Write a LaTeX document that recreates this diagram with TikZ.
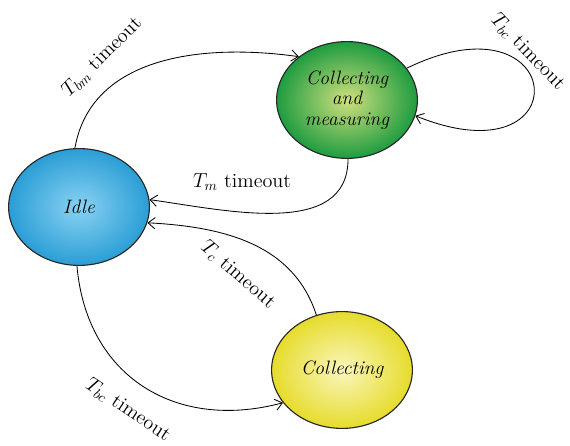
\documentclass[tikz,border=0pt]{standalone}
\usepackage{amsmath,amssymb}
\usetikzlibrary{shapes.geometric,arrows.meta}

\begin{document}
\begin{tikzpicture}[
font=\fontsize{14.3}{16}\selectfont,
>={Straight Barb[length=5pt,width=8pt]},
state/.style={ellipse, draw=black!85, line width=0.8pt, inner sep=0pt,
  minimum width=3.52cm, minimum height=2.92cm, align=center,
  font=\fontsize{13.8}{14.8}\selectfont\itshape},
trans/.style={->, line width=0.6pt, black},
lbl/.style={inner sep=1pt},
]
\useasboundingbox (0,0) rectangle (14.25,-11.15);
\definecolor{idlein}{HTML}{8AD2F2}
\definecolor{idleout}{HTML}{2A9ED6}
\definecolor{cmin}{HTML}{CFE07E}
\definecolor{cmout}{HTML}{1E9C40}
\definecolor{collin}{HTML}{FAF6BC}
\definecolor{collout}{HTML}{E6DC2C}

\node[state, inner color=idlein, outer color=idleout] (idle) at (1.975,-5.175) {Idle};
\node[state, inner color=cmin, outer color=cmout] (measure) at (8.675,-2.5)
  {Collecting\\and\\measuring};
\node[state, inner color=collin, outer color=collout] (collect) at (8.55,-9.25) {Collecting};

\draw[trans] (idle.94) to[out=80,in=172,looseness=1] (measure.138);
\draw[trans] (measure.28) to[out=26,in=-22,looseness=9.5] (measure.-13);
\draw[trans] (measure.-89) to[out=-90,in=-8,looseness=1] (idle.6);
\draw[trans] (collect.115) to[out=108,in=-3,looseness=1] (idle.-13);
\draw[trans] (idle.-92) to[out=-85,in=195,looseness=1.15] (collect.209);

\node[lbl, rotate=45] (lbm) at (2.55,-1.425) {$T_{bm}$ timeout};
\node[lbl, rotate=-46] (lbcloop) at (13.2,-1.3) {$T_{bc}$ timeout};
\node[lbl] (lm) at (6.05,-4.55) {$T_{m}$ timeout};
\node[lbl, rotate=-41] (lc) at (5.95,-6.875) {$T_{c}$ timeout};
\node[lbl, rotate=-34] (lbc) at (3.2,-10.25) {$T_{bc}$ timeout};
\end{tikzpicture}
\end{document}
